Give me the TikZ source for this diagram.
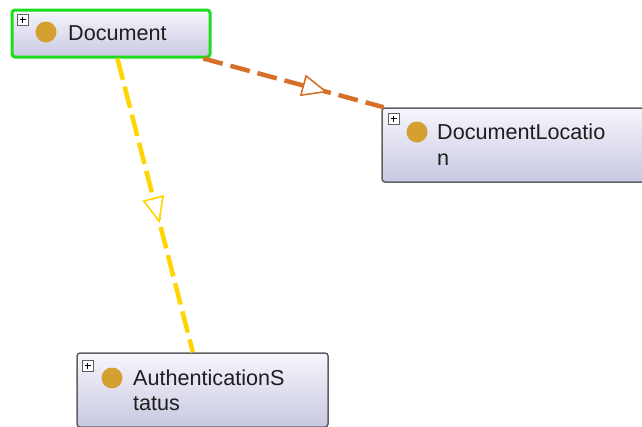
\documentclass[tikz,border=0pt]{standalone}
\usepackage{fontspec}
\setmainfont{Liberation Sans}
\usetikzlibrary{arrows.meta,decorations.markings}

\definecolor{boxtop}{RGB}{246,246,252}
\definecolor{boxbottom}{RGB}{200,200,226}
\definecolor{boxgray}{RGB}{96,96,100}
\definecolor{selgreen}{RGB}{30,220,30}
\definecolor{dotgold}{RGB}{212,160,48}
\definecolor{subyellow}{RGB}{255,212,0}
\definecolor{reforange}{RGB}{214,112,40}
\definecolor{labelgray}{RGB}{30,30,30}

\begin{document}
\begin{tikzpicture}[x=1pt, y=-1pt,
    classbox/.style={draw=boxgray, line width=1.5pt, rounded corners=3pt,
        top color=boxtop, bottom color=boxbottom, inner sep=0pt},
    classname/.style={anchor=base west, inner sep=0pt, text=labelgray,
        font=\fontsize{21.6}{26}\selectfont},
    midtip/.style={postaction={decorate}, decoration={markings,
        mark=at position #1 with {\arrow{Triangle[length=26pt, width=22pt, fill=white, line width=1.6pt]}}}},
]
    \useasboundingbox[fill=white] (0,0) rectangle (642,426);
    \clip (0,0) rectangle (642,426);

    % classes
    \node[classbox, draw=selgreen, line width=3pt, minimum width=198pt, minimum height=47pt] (document) at (111,33.5) {};
    \node[classbox, minimum width=282pt, minimum height=74pt] (location) at (523,145) {};
    \node[classbox, minimum width=251pt, minimum height=74pt] (status) at (202.5,390) {};

    % connectors
    \draw[subyellow, line width=4.5pt, dash pattern=on 22pt off 7pt, midtip=0.56] (document) -- (status);
    \draw[reforange, line width=4.5pt, dash pattern=on 20pt off 8pt, midtip=0.69] (document) -- (location);

    % expand buttons and dots
    \foreach \px/\py/\cx/\cy in {17/14/46/32, 388/113/417/132, 82/360/112/378} {
        \draw[boxgray, fill=white, line width=0.8pt] (\px,\py) rectangle ++(11,11);
        \draw[black, line width=1.3pt] (\px+2.5,\py+5.5) -- ++(6,0) (\px+5.5,\py+2.5) -- ++(0,6);
        \fill[dotgold] (\cx,\cy) circle (10.5);
    }

    % names
    \node[classname] (documentname) at (68,40) {Document};
    \node[classname] (locationname) at (437,139) {DocumentLocatio};
    \node[classname] (locationrest) at (437,165) {n};
    \node[classname] (statusname) at (133,385) {AuthenticationS};
    \node[classname] (statusrest) at (133,410) {tatus};
\end{tikzpicture}
\end{document}
